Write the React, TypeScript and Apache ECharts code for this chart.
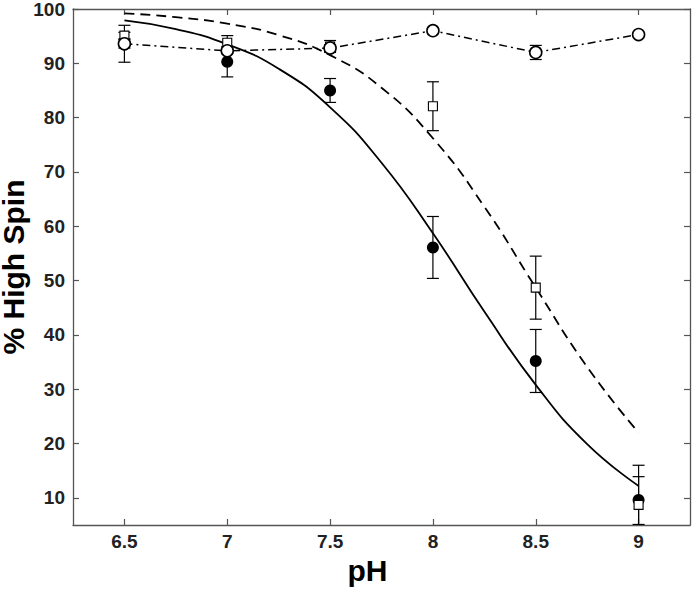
import React, { useEffect, useRef } from "react";
import * as echarts from "echarts";

// pH values of measurements
const phValues = [6.5, 7, 7.5, 8, 8.5, 9];

// filled circles
const filledValues = [93.6, 90.3, 85.0, 56.1, 35.2, 9.6];
const filledErrLow = [3.4, 2.8, 2.2, 5.7, 5.8, 4.5];
const filledErrHigh = [3.4, 2.8, 2.2, 5.7, 5.8, 6.4];

// open squares
const squareValues = [95.1, 93.8, 93.1, 82.1, 48.7, 8.7];
const squareErr = [0.6, 1.3, 1.1, 4.5, 5.8, 5.2];

// open circles (dash-dot connected)
const openValues = [93.6, 92.3, 92.8, 96.0, 92.0, 95.3];
const openErr = [0.8, 0.5, 0.6, 0, 1.3, 0];

// fitted curves
const fitPh = [6.5, 6.75, 7, 7.25, 7.5, 7.75, 8, 8.25, 8.5, 8.75, 9];
const solidFit = [97.9, 96.3, 93.5, 89.0, 81.9, 71.7, 58.7, 44.3, 30.8, 19.9, 12.2];
const dashedFit = [99.2, 98.5, 97.3, 95.2, 91.5, 85.5, 76.2, 63.6, 48.7, 34.1, 22.0];

// tick labels
const xTicks = [6.5, 7, 7.5, 8, 8.5, 9];
const yTicks = [10, 20, 30, 40, 50, 60, 70, 80, 90, 100];

const FONT = "Liberation Sans, Arial, Helvetica, sans-serif";
const AXIS_COLOR = "#555";

function errorBars(values: number[], lo: number[], hi: number[]) {
  return phValues.map((x, i) => [x, values[i] - lo[i], values[i] + hi[i]]);
}

function errorSeries(data: number[][], z: number) {
  return {
    type: "custom",
    z,
    clip: true,
    silent: true,
    data,
    encode: { x: 0, y: [1, 2] },
    renderItem: (params: any, api: any) => {
      const x = api.value(0);
      const lo = api.value(1);
      const hi = api.value(2);
      if (hi - lo <= 0) return null;
      const pLo = api.coord([x, lo]);
      const pHi = api.coord([x, hi]);
      const w = 6;
      const style = { stroke: "#000", lineWidth: 1.2 };
      return {
        type: "group",
        children: [
          { type: "line", shape: { x1: pLo[0], y1: pLo[1], x2: pHi[0], y2: pHi[1] }, style },
          { type: "line", shape: { x1: pLo[0] - w, y1: pLo[1], x2: pLo[0] + w, y2: pLo[1] }, style },
          { type: "line", shape: { x1: pHi[0] - w, y1: pHi[1], x2: pHi[0] + w, y2: pHi[1] }, style },
        ],
      };
    },
  };
}

export default function App() {
  const ref = useRef<HTMLDivElement>(null);

  useEffect(() => {
    if (!ref.current) return;
    const chart = echarts.init(ref.current, null, { renderer: "svg" });

    const baseX = {
      type: "value",
      min: 6.25,
      max: 9.25,
      splitLine: { show: false },
      axisLine: { show: true, onZero: false, lineStyle: { color: AXIS_COLOR, width: 1.3 } },
      axisTick: { show: true, inside: true, length: 6, customValues: xTicks, lineStyle: { color: AXIS_COLOR, width: 1.2 } },
    };
    const baseY = {
      type: "value",
      min: 5,
      max: 100,
      splitLine: { show: false },
      axisLine: { show: true, onZero: false, lineStyle: { color: AXIS_COLOR, width: 1.3 } },
      axisTick: { show: true, inside: true, length: 6, customValues: yTicks, lineStyle: { color: AXIS_COLOR, width: 1.2 } },
    };
    const labelStyle = { fontSize: 19, fontWeight: "bold", color: "#222", fontFamily: FONT };

    chart.setOption({
      animation: false,
      backgroundColor: "#fff",
      grid: { left: 73, top: 9, right: 3, bottom: 68, containLabel: false, outerBoundsMode: "none" },
      xAxis: [
        {
          ...baseX,
          position: "bottom",
          axisLabel: { ...labelStyle, customValues: xTicks, margin: 7 },
          name: "pH",
          nameLocation: "middle",
          nameGap: 30,
          nameMoveOverlap: false,
          nameTextStyle: { fontSize: 30, fontWeight: "bold", color: "#000", fontFamily: FONT, padding: [0, 28, 0, 0] },
        },
        { ...baseX, position: "top", axisLabel: { show: false } },
      ],
      yAxis: [
        {
          ...baseY,
          position: "left",
          axisLabel: { ...labelStyle, customValues: yTicks, margin: 8 },
          name: "% High Spin",
          nameLocation: "middle",
          nameGap: 47,
          nameRotate: 90,
          nameMoveOverlap: false,
          nameTextStyle: { fontSize: 30, lineHeight: 26, fontWeight: "bold", color: "#000", fontFamily: FONT },
        },
        { ...baseY, position: "right", axisLabel: { show: false } },
      ],
      series: [
        errorSeries(errorBars(filledValues, filledErrLow, filledErrHigh), 2),
        errorSeries(errorBars(squareValues, squareErr, squareErr), 2),
        errorSeries(errorBars(openValues, openErr, openErr), 2),
        {
          type: "line",
          z: 3,
          smooth: true,
          symbol: "none",
          data: fitPh.map((x, i) => [x, solidFit[i]]),
          lineStyle: { color: "#000", width: 1.8 },
        },
        {
          type: "line",
          z: 3,
          smooth: true,
          symbol: "none",
          data: fitPh.map((x, i) => [x, dashedFit[i]]),
          lineStyle: { color: "#000", width: 1.8, type: [10, 6] },
        },
        {
          type: "scatter",
          z: 4,
          symbol: "circle",
          symbolSize: 12,
          data: phValues.map((x, i) => [x, filledValues[i]]),
          itemStyle: { color: "#000", opacity: 1 },
        },
        {
          type: "scatter",
          z: 5,
          symbol: "rect",
          symbolSize: 9,
          data: phValues.map((x, i) => [x, squareValues[i]]),
          itemStyle: { color: "#fff", borderColor: "#000", borderWidth: 1.1, opacity: 1 },
        },
        {
          type: "line",
          z: 6,
          symbol: "circle",
          symbolSize: 12,
          showSymbol: true,
          data: phValues.map((x, i) => [x, openValues[i]]),
          lineStyle: { color: "#000", width: 1.5, type: [8, 4, 2, 4] },
          itemStyle: { color: "#fff", borderColor: "#000", borderWidth: 1.6, opacity: 1 },
        },
      ],
    });

    return () => chart.dispose();
  }, []);

  return (
    <div
      ref={ref}
      style={{ position: "fixed", left: 0, top: 0, width: 693, height: 593, background: "#fff" }}
    />
  );
}
